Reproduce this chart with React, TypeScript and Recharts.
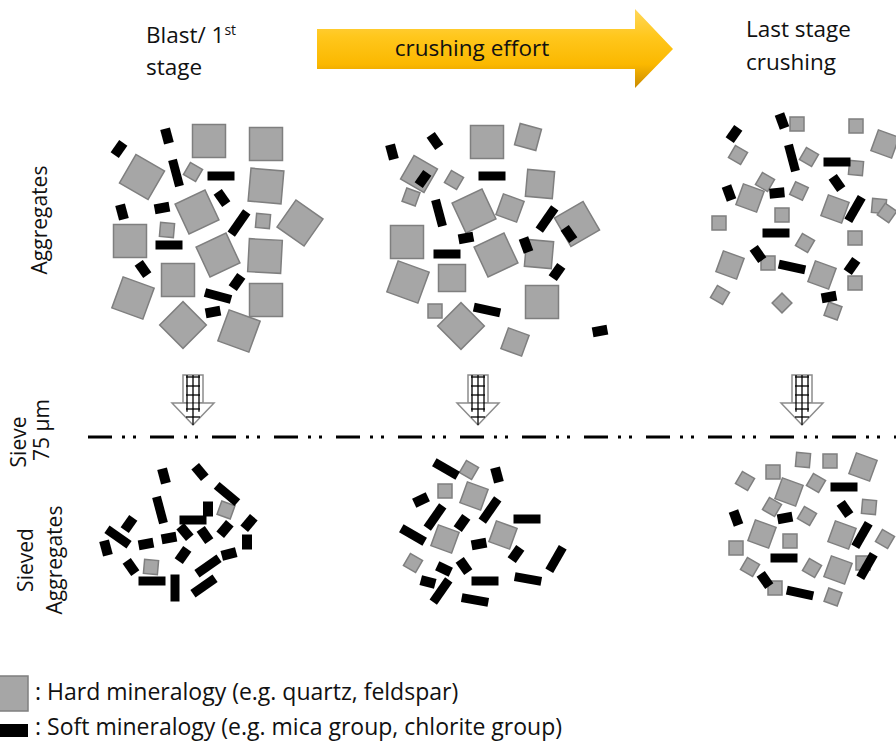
import React from "react";
import {
  Customized,
  ReferenceLine,
  Scatter,
  ScatterChart,
  XAxis,
  YAxis,
} from "recharts";

// Particle tuples: [x, y, sizeClass, rotation]. Hard = grey squares, soft = black flakes.
type Hard = [number, number, "XL" | "L" | "M" | "S", number];
type Soft = [number, number, "bar" | "chip", number];

const aggBlastHard: Hard[] = [
  [209, 141, "XL", 0], [266, 144, "XL", 0], [142, 177, "XL", 30], [193, 172, "S", 30],
  [266, 186, "XL", 5], [197, 212, "XL", -25], [263, 221, "S", 5], [300, 223, "XL", 35],
  [130, 241, "XL", 0], [167, 230, "S", 5], [218, 255, "XL", -25], [265, 256, "XL", 3],
  [178, 280, "XL", 0], [133, 298, "XL", 20], [266, 300, "XL", 0], [183, 325, "XL", 45],
  [239, 331, "XL", 20],
];
const aggBlastSoft: Soft[] = [
  [119, 149, "chip", 35], [167, 136, "chip", -15], [176, 173, "bar", 75], [221, 176, "bar", 0],
  [222, 198, "chip", -35], [122, 212, "chip", -15], [162, 208, "chip", 80], [239, 223, "bar", 125],
  [169, 245, "bar", 0], [143, 269, "chip", -35], [237, 282, "chip", 35], [218, 296, "bar", 15],
  [213, 312, "chip", 80],
];

const aggMidHard: Hard[] = [
  [487, 142, "XL", 0], [528, 137, "M", 15], [419, 174, "L", 30], [454, 180, "S", 30],
  [411, 197, "S", 20], [540, 184, "L", 5], [474, 211, "XL", -25], [510, 208, "M", 20],
  [577, 224, "XL", -30], [407, 242, "XL", 0], [496, 255, "XL", -25], [539, 254, "L", 5],
  [408, 282, "XL", 20], [452, 278, "L", 0], [542, 302, "XL", 0], [435, 311, "S", 0],
  [461, 326, "XL", 45], [515, 342, "M", 20],
];
const aggMidSoft: Soft[] = [
  [392, 152, "chip", -15], [435, 141, "chip", -35], [423, 179, "chip", 35], [492, 176, "bar", 0],
  [439, 213, "bar", 75], [547, 219, "bar", 125], [569, 234, "chip", -35], [466, 238, "chip", 80],
  [526, 245, "chip", -20], [447, 254, "bar", 0], [557, 272, "chip", 35], [487, 310, "bar", 12],
  [600, 331, "chip", 80],
];

const aggLastHard: Hard[] = [
  [797, 124, "S", 0], [856, 126, "S", 0], [885, 144, "M", 20], [738, 155, "S", 30],
  [809, 157, "S", 30], [856, 168, "S", 5], [765, 182, "S", 30], [750, 198, "M", 20],
  [799, 191, "S", 25], [835, 209, "M", 20], [879, 206, "S", 5], [887, 213, "S", 35],
  [782, 215, "S", 0], [719, 223, "S", 0], [805, 243, "S", 30], [855, 238, "S", 0],
  [730, 265, "M", 20], [768, 263, "S", 0], [822, 275, "M", 20], [855, 283, "S", 0],
  [720, 295, "S", 30], [782, 303, "S", 45], [833, 311, "S", 20],
];
const aggLastSoft: Soft[] = [
  [782, 121, "chip", -20], [734, 134, "chip", 35], [792, 158, "bar", 75], [837, 162, "bar", 0],
  [837, 183, "chip", -35], [729, 193, "chip", -20], [777, 193, "chip", 85], [855, 209, "bar", 120],
  [776, 233, "bar", 0], [758, 254, "chip", -35], [792, 267, "bar", 12], [852, 266, "chip", 35],
  [829, 297, "chip", 80],
];

const sievedBlastHard: Hard[] = [[226, 510, "S", 20], [151, 567, "S", 5]];
const sievedBlastSoft: Soft[] = [
  [164, 476, "chip", -15], [200, 472, "chip", -40], [227, 494, "bar", 40], [160, 510, "bar", 75],
  [193, 520, "bar", 0], [208, 509, "chip", 0], [129, 524, "chip", 35], [118, 537, "bar", 35],
  [106, 548, "chip", -15], [146, 544, "chip", 80], [169, 538, "chip", 80], [185, 532, "chip", -40],
  [205, 535, "chip", -35], [225, 529, "chip", 40], [249, 523, "chip", 40], [247, 542, "chip", 0],
  [183, 555, "chip", 35], [229, 554, "chip", 75], [131, 567, "chip", -35], [208, 566, "bar", -35],
  [152, 581, "bar", 0], [175, 588, "bar", 90], [204, 586, "bar", -35],
];

const sievedMidHard: Hard[] = [
  [469, 470, "S", 30], [445, 491, "S", 0], [474, 496, "M", 20], [445, 539, "M", 20],
  [503, 535, "M", 20], [413, 563, "S", 30],
];
const sievedMidSoft: Soft[] = [
  [446, 469, "bar", 30], [497, 475, "chip", -15], [421, 500, "chip", 65], [435, 517, "bar", 125],
  [462, 523, "chip", 35], [490, 510, "bar", 125], [527, 519, "bar", 0], [413, 535, "bar", 30],
  [479, 544, "chip", 80], [516, 554, "chip", 35], [556, 559, "bar", 120], [464, 566, "chip", -35],
  [444, 569, "chip", 115], [428, 582, "chip", 105], [441, 591, "bar", 125], [485, 581, "bar", 0],
  [528, 579, "bar", 10], [475, 600, "bar", 10],
];

const sievedLastHard: Hard[] = [
  [803, 460, "S", 5], [830, 461, "S", 0], [863, 467, "M", 20], [745, 481, "S", 30],
  [773, 472, "S", 0], [789, 492, "M", 20], [816, 483, "S", 30], [869, 507, "S", 5],
  [772, 507, "S", 30], [807, 516, "S", 30], [762, 534, "M", 20], [790, 541, "S", 0],
  [842, 535, "M", 20], [885, 539, "S", 30], [736, 548, "S", 0], [750, 567, "S", 30],
  [812, 568, "S", 30], [838, 570, "M", 20], [863, 563, "S", 0], [775, 588, "S", 0],
  [833, 597, "S", 20],
];
const sievedLastSoft: Soft[] = [
  [844, 487, "bar", 0], [845, 509, "chip", -35], [736, 518, "chip", -20], [785, 518, "chip", 80],
  [862, 535, "bar", 120], [784, 558, "bar", 0], [867, 566, "bar", 120], [765, 580, "chip", -35],
  [800, 593, "bar", 12],
];

// sieve arrows sit above the 75 µm line, one per stage
const sieveArrowX = [193, 478, 802];
const sieveArrowY = 400;
const sieveLineY = 437;

const headerLabels = ["Blast/ 1st stage", "crushing effort", "Last stage crushing"];
const legendLabels = [
  ": Hard mineralogy (e.g. quartz, feldspar)",
  ": Soft mineralogy (e.g. mica group, chlorite group)",
];

const HARD_SIZE = { XL: 33, L: 27, M: 22, S: 14 };
const SOFT_SIZE = { bar: [27, 9], chip: [10, 15] };
const GREY = "#a6a6a6";
const GREY_EDGE = "#7f7f7f";
const FONT = "'Open Sans', Lato, sans-serif";

const toPoints = <T extends any[]>(rows: T[]) =>
  rows.map(([x, y, kind, rot]) => ({ x, y, kind, rot }));

const hardPoints = toPoints([
  ...aggBlastHard, ...aggMidHard, ...aggLastHard,
  ...sievedBlastHard, ...sievedMidHard, ...sievedLastHard,
]);
const softPoints = toPoints([
  ...aggBlastSoft, ...aggMidSoft, ...aggLastSoft,
  ...sievedBlastSoft, ...sievedMidSoft, ...sievedLastSoft,
]);
const arrowPoints = sieveArrowX.map((x) => ({ x, y: sieveArrowY }));

function HardShape(props: any) {
  const { cx, cy, payload } = props;
  const s = HARD_SIZE[payload.kind as keyof typeof HARD_SIZE];
  return (
    <rect
      x={cx - s / 2}
      y={cy - s / 2}
      width={s}
      height={s}
      fill={GREY}
      stroke={GREY_EDGE}
      strokeWidth={1.5}
      transform={`rotate(${payload.rot} ${cx} ${cy})`}
    />
  );
}

function SoftShape(props: any) {
  const { cx, cy, payload } = props;
  const [w, h] = SOFT_SIZE[payload.kind as keyof typeof SOFT_SIZE];
  return (
    <rect
      x={cx - w / 2}
      y={cy - h / 2}
      width={w}
      height={h}
      fill="#000"
      transform={`rotate(${payload.rot} ${cx} ${cy})`}
    />
  );
}

// hollow down arrow with the mesh pattern drawn inside it
function SieveArrow(props: any) {
  const { cx, cy } = props;
  const top = cy - 25;
  const base = cy + 3;
  const tip = cy + 25;
  const rows = [top + 2, top + 11, top + 20, base + 6, base + 14];
  return (
    <g>
      <rect x={cx - 10} y={top} width={20} height={base - top} fill="#fff" stroke="#8c8c8c" strokeWidth={1.5} />
      <polygon
        points={`${cx - 21},${base} ${cx + 21},${base} ${cx},${tip}`}
        fill="#fff"
        stroke="#8c8c8c"
        strokeWidth={1.5}
      />
      {[-6, 0, 6].map((dx) => (
        <line key={dx} x1={cx + dx} x2={cx + dx} y1={top} y2={tip - Math.abs(dx) * 2.2} stroke="#000" strokeWidth={1.3} />
      ))}
      {rows.map((y) => (
        <line key={y} x1={cx - 7} x2={cx + 7} y1={y} y2={y} stroke="#000" strokeWidth={1.3} />
      ))}
    </g>
  );
}

function Annotations() {
  const arrowBody = "M317,29 L635,29 L635,9 L673,49 L635,88 L635,69 L317,69 Z";
  return (
    <g fontFamily={FONT} fill="#111">
      <defs>
        <linearGradient id="crushFill" x1="0" y1="9" x2="0" y2="88" gradientUnits="userSpaceOnUse">
          <stop offset="0%" stopColor="#ffd75a" />
          <stop offset="35%" stopColor="#ffc71c" />
          <stop offset="70%" stopColor="#fbb800" />
          <stop offset="100%" stopColor="#c98a00" />
        </linearGradient>
      </defs>

      <text x={146} y={43} fontSize={22.5}>
        Blast/ 1<tspan fontSize={14} dy={-8}>st</tspan>
      </text>
      <text x={146} y={75} fontSize={22.5}>stage</text>

      <path d={arrowBody} fill="url(#crushFill)" />
      <text x={472} y={56} fontSize={22.5} textAnchor="middle">{headerLabels[1]}</text>

      <text x={746} y={37} fontSize={22.5}>Last stage</text>
      <text x={746} y={70} fontSize={22.5}>crushing</text>

      <text transform="translate(47,220) rotate(-90)" fontSize={21} textAnchor="middle">Aggregates</text>
      <text transform="translate(26,442) rotate(-90)" fontSize={21} textAnchor="middle">Sieve</text>
      <text transform="translate(49,430) rotate(-90)" fontSize={21} textAnchor="middle">75 µm</text>
      <text transform="translate(33,560) rotate(-90)" fontSize={21} textAnchor="middle">Sieved</text>
      <text transform="translate(62,560) rotate(-90)" fontSize={21} textAnchor="middle">Aggregates</text>

      <rect x={-1} y={676} width={29} height={35} fill={GREY} stroke={GREY_EDGE} strokeWidth={1.5} />
      <text x={35} y={700} fontSize={23}>{legendLabels[0]}</text>
      <rect x={-1} y={724} width={29} height={13} fill="#000" />
      <text x={35} y={735} fontSize={23}>{legendLabels[1]}</text>
    </g>
  );
}

export default function App() {
  return (
    <div style={{ width: 896, height: 742, background: "#fff" }}>
      <style>{"body{margin:0}"}</style>
      <ScatterChart width={896} height={742} margin={{ top: 0, right: 0, bottom: 0, left: 0 }}>
        <XAxis type="number" dataKey="x" domain={[0, 896]} hide />
        <YAxis type="number" dataKey="y" domain={[0, 742]} reversed hide />
        <ReferenceLine
          segment={[{ x: 88, y: sieveLineY }, { x: 896, y: sieveLineY }]}
          stroke="#000"
          strokeWidth={3}
          strokeDasharray="24 10 3 8 3 14"
        />
        <Scatter data={arrowPoints} shape={SieveArrow} isAnimationActive={false} />
        <Scatter data={hardPoints} shape={HardShape} isAnimationActive={false} />
        <Scatter data={softPoints} shape={SoftShape} isAnimationActive={false} />
        <Customized component={Annotations} />
      </ScatterChart>
    </div>
  );
}
